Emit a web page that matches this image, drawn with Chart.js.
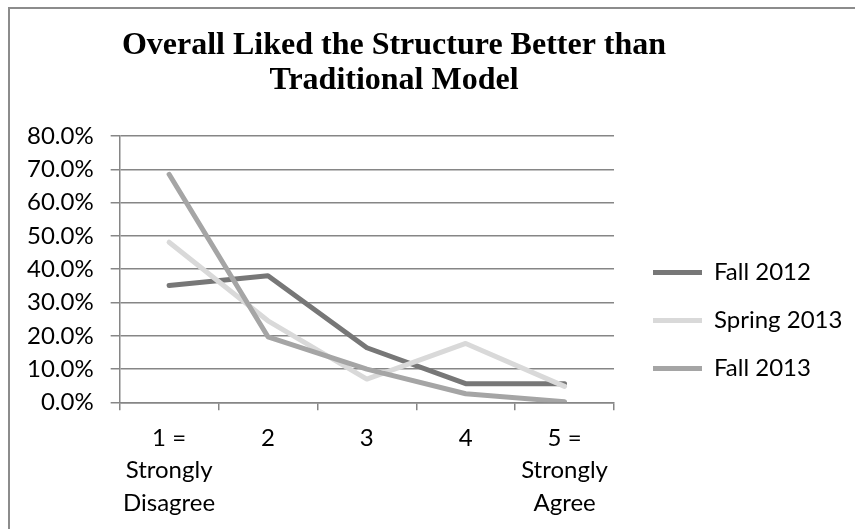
<!DOCTYPE html>
<html>
<head>
<meta charset="utf-8">
<script src="https://cdn.jsdelivr.net/npm/chart.js@4/dist/chart.umd.min.js"></script>
<style>
  html, body { margin: 0; padding: 0; background: #fff; overflow: hidden; }
  #wrap { position: relative; width: 855px; height: 529px; }
  #frame { position: absolute; left: 8px; top: 7px; width: 900px; height: 600px;
           border-left: 2px solid #8c8c8c; border-top: 2px solid #8c8c8c; pointer-events: none; }
</style>
</head>
<body>
<div id="wrap">
  <canvas id="chart" width="855" height="529"></canvas>
  <div id="frame"></div>
</div>
<script>
const titleLines = ['Overall Liked the Structure Better than', 'Traditional Model'];
const categories = [['1 =', 'Strongly', 'Disagree'], '2', '3', '4', ['5 =', 'Strongly', 'Agree']];
const seriesNames = ['Fall 2012', 'Spring 2013', 'Fall 2013'];
const fall2012 = [35.1, 38.0, 16.4, 5.6, 5.6];
const spring2013 = [48.1, 24.5, 7.0, 17.7, 4.8];
const fall2013 = [68.5, 19.7, 10.0, 2.6, 0.2];
const yTicks = [0, 10, 20, 30, 40, 50, 60, 70, 80];

const labelFont = { family: 'Lato, sans-serif', size: 24 };
const legendWidth = 226;

// Excel style title, centred a bit left of the canvas middle
const titlePlugin = {
  id: 'excelTitle',
  afterDraw(chart) {
    const ctx = chart.ctx;
    ctx.save();
    ctx.fillStyle = '#000';
    ctx.font = 'bold 32px "Liberation Serif", serif';
    ctx.textAlign = 'center';
    ctx.textBaseline = 'alphabetic';
    ctx.fillText(titleLines[0], 394, 54);
    ctx.fillText(titleLines[1], 394, 89);
    ctx.restore();
  }
};

// the layout caps a side legend at a quarter of the width, which clips "Spring 2013"
const legendWidthPlugin = {
  id: 'legendWidth',
  beforeLayout(chart) {
    const lg = chart.legend;
    if (lg && !lg._widthPatched) {
      const fit = lg.fit;
      lg.fit = function () { fit.call(this); this.width = legendWidth; };
      lg._widthPatched = true;
    }
  }
};

function line(name, values, color, order) {
  return {
    label: name,
    data: values,
    borderColor: color,
    backgroundColor: color,
    borderWidth: 5,
    pointRadius: 0,
    pointHoverRadius: 0,
    borderCapStyle: 'round',
    borderJoinStyle: 'round',
    tension: 0,
    order: order
  };
}

new Chart(document.getElementById('chart'), {
  type: 'line',
  data: {
    labels: categories,
    datasets: [
      line(seriesNames[0], fall2012, '#777777', 3),
      line(seriesNames[1], spring2013, '#d9d9d9', 2),
      line(seriesNames[2], fall2013, '#a5a5a5', 1)
    ]
  },
  options: {
    responsive: false,
    animation: false,
    events: [],
    layout: { padding: { top: 136, left: 10, right: 0, bottom: -2 } },
    plugins: {
      title: { display: false },
      tooltip: { enabled: false },
      legend: {
        position: 'right',
        align: 'start',
        title: { display: true, text: '', padding: { top: 86, bottom: 0 } },
        labels: {
          usePointStyle: true,
          pointStyle: 'line',
          pointStyleWidth: 49,
          boxHeight: 5,
          padding: 24,
          color: '#000',
          font: labelFont,
          sort: (a, b) => a.datasetIndex - b.datasetIndex
        }
      }
    },
    scales: {
      x: {
        offset: true,
        grid: { offset: true, drawOnChartArea: false, color: '#868686', lineWidth: 1.5, tickLength: 8 },
        border: { color: '#868686', width: 1.5 },
        ticks: { color: '#000', font: { ...labelFont, lineHeight: 1.37 }, padding: 11, maxRotation: 0, autoSkip: false }
      },
      y: {
        min: 0,
        max: 80,
        afterBuildTicks: (scale) => { scale.ticks = yTicks.map(v => ({ value: v })); },
        grid: { color: '#868686', lineWidth: 1.5, tickLength: 9 },
        border: { color: '#868686', width: 1.5 },
        ticks: { color: '#000', font: labelFont, padding: 17, callback: v => v.toFixed(1) + '%' }
      },
      // empty spacer between the plot and the legend
      gap: {
        type: 'linear',
        position: 'right',
        display: true,
        grid: { display: false, drawTicks: false },
        border: { display: false },
        ticks: { display: false },
        afterFit: (scale) => { scale.width = 15; }
      }
    }
  },
  plugins: [titlePlugin, legendWidthPlugin]
});
</script>
</body>
</html>
